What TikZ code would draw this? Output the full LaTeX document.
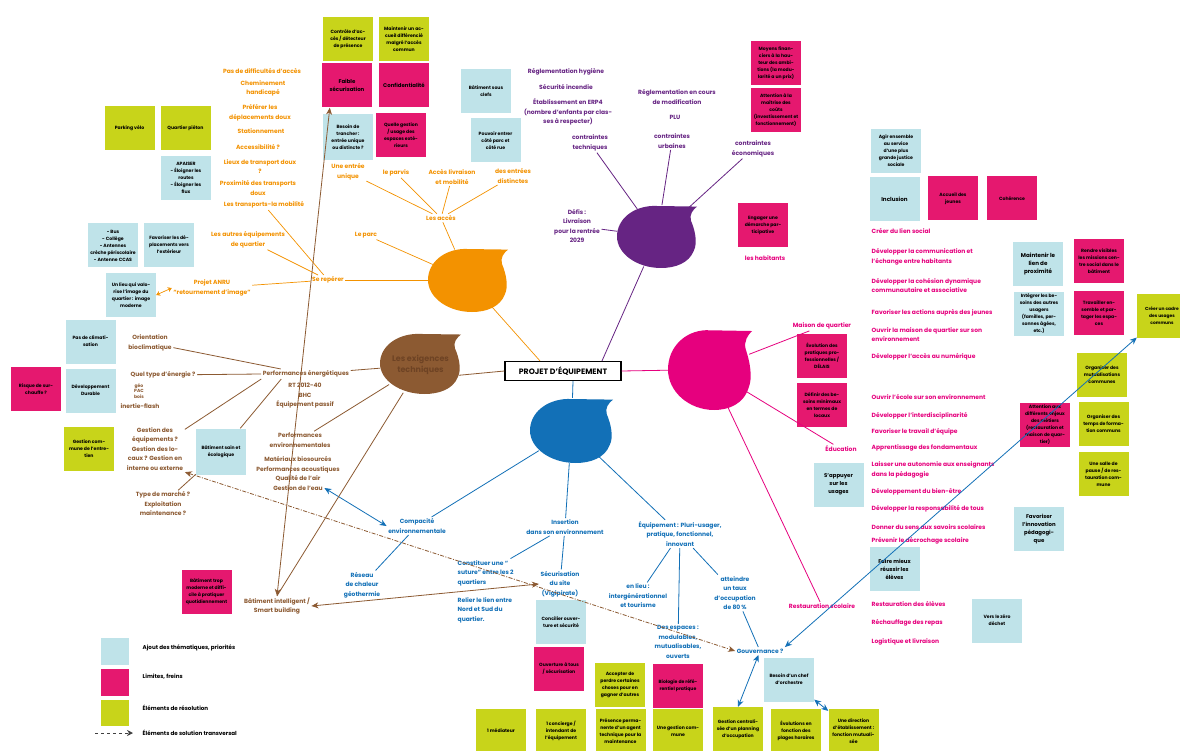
\documentclass[tikz,border=0pt]{standalone}
\usepackage{fontspec}
\setmainfont{Poppins}
\usetikzlibrary{arrows.meta,shapes.geometric}
\definecolor{cO}{HTML}{F39200}
\definecolor{cBr}{HTML}{8C5A32}
\definecolor{cBrD}{HTML}{6E4324}
\definecolor{cP}{HTML}{662483}
\definecolor{cM}{HTML}{E6007E}
\definecolor{cPk}{HTML}{E5186F}
\definecolor{cB}{HTML}{1270B7}
\definecolor{cLB}{HTML}{BFE3E9}
\definecolor{cLm}{HTML}{C8D41A}
\newcommand\myblob[5]{\begin{scope}[shift={(#2,#3)},xscale=#4,yscale=#5]
\fill[#1] (1,-0.95) .. controls (0.9,-0.85) and (0.8,-0.7) .. (0.85,-0.5) .. controls (0.95,-0.2) and (1.02,0.2) .. (0.92,0.45) .. controls (0.8,0.85) and (0.45,1) .. (0.1,1) .. controls (-0.5,1) and (-1,0.55) .. (-1,0) .. controls (-1,-0.55) and (-0.6,-0.95) .. (-0.1,-0.97) -- cycle;
\end{scope}}
\tikzset{
 lbl/.style={font=\fontsize{6}{9.5}\selectfont\bfseries, align=center, inner sep=1.5pt},
 tO/.style={lbl,text=cO}, tBr/.style={lbl,text=cBr}, tP/.style={lbl,text=cP},
 tM/.style={lbl,text=cM}, tMl/.style={lbl,text=cM,anchor=west,align=left},
 tB/.style={lbl,text=cB}, tK/.style={lbl,text=black,font=\fontsize{5.6}{7}\selectfont\bfseries},
 bx/.style={minimum width=50pt, minimum height=44pt, inner sep=1pt, align=center, font=\fontsize{4.6}{7}\selectfont\bfseries, text=black},
 bxb/.style={bx, fill=cLB}, bxp/.style={bx, fill=cPk}, bxl/.style={bx, fill=cLm},
 lnO/.style={draw=cO, line width=0.7pt}, lnBr/.style={draw=cBr, line width=0.8pt},
 lnP/.style={draw=cP, line width=0.8pt}, lnM/.style={draw=cM, line width=0.8pt},
 lnB/.style={draw=cB, line width=0.8pt},
 darr/.style={{Stealth[length=7pt,width=6pt]}-{Stealth[length=7pt,width=6pt]}},
 sarr/.style={{Stealth[length=4pt,width=5pt]}-{Stealth[length=4pt,width=5pt]}},
 blobnode/.style={ellipse, inner sep=0pt}
}
\begin{document}
\begin{tikzpicture}[x=1pt,y=-1pt]
\fill[white] (0,0) rectangle (1180,751);
\useasboundingbox (0,0) rectangle (1180,751);

% blobs
\myblob{cO}{468}{280}{40}{32}
\myblob{cBr}{420.5}{363.5}{40.5}{30.5}
\myblob{cP}{657}{236.5}{40}{31.5}
\myblob{cM}{710}{369.5}{42}{40.5}
\myblob{cB}{571.5}{430.5}{41.5}{32.5}
\node[blobnode, minimum width=80pt, minimum height=64pt] (orb) at (468,280) {};
\node[blobnode, minimum width=81pt, minimum height=61pt, text=cBrD, font=\fontsize{8}{11}\selectfont\bfseries, align=center] (brb) at (420.5,365) {Les exigences\\techniques};
\node[blobnode, minimum width=80pt, minimum height=63pt] (pb) at (657,236.5) {};
\node[blobnode, minimum width=84pt, minimum height=81pt] (mb) at (710,369.5) {};
\node[blobnode, minimum width=83pt, minimum height=65pt] (bb) at (571.5,430.5) {};

% central
\node[draw=black, line width=1.2pt, fill=white, minimum width=116pt, minimum height=19pt, inner sep=1pt, font=\fontsize{7.8}{9}\selectfont\bfseries] (proj) at (563,371) {PROJET D'ÉQUIPEMENT};

% orange
\node[tO] (acces) at (441,218) {Les accès};
\node[tO] (entree) at (348,172) {Une entrée\\unique};
\node[tO] (parvis) at (396,173) {le parvis};
\node[tO] (livr) at (452,177) {Accès livraison\\et mobilité};
\node[tO] (distinct) at (513,176) {des entrées\\distinctes};
\node[tO] (parc) at (366,235) {Le parc};
\node[tO] (reperer) at (328,280) {Se repérer};
\node[tO] (transp) at (264,205) {Les transports-la mobilité};
\node[tO] (autres) at (248,240) {Les autres équipements\\de quartier};
\node[tO] (anru) at (212,288) {Projet ANRU\\“retournement d'image”};
\node[tO] (o1) at (262,71) {Pas de difficultés d'accès};
\node[tO] (o2) at (263,88.5) {Cheminement\\handicapé};
\node[tO] (o3) at (260,113) {Préférer les\\déplacements doux};
\node[tO] (o4) at (261,131) {Stationnement};
\node[tO] (o5) at (258,147) {Accessibilité ?};
\node[tO] (o6) at (260,166.5) {Lieux de transport doux\\?};
\node[tO] (o7) at (258,188) {Proximité des transports\\doux};

% boxes top-left
\node[bxl] (ctrl) at (348,39) {Contrôle d'ac-\\cès / détecteur\\de présence};
\node[bxl] (accdiff) at (404,39) {Maintenir un ac-\\cueil différencié\\malgré l'accès\\commun};
\node[bxp, font=\fontsize{5.4}{8}\selectfont\bfseries] (faible) at (347,85.5) {Faible\\sécurisation};
\node[bxp, font=\fontsize{5.4}{8}\selectfont\bfseries] (confid) at (404,85.5) {Confidentialité};
\node[bxb, minimum height=46pt] (besoin) at (348,137) {Besoin de\\trancher :\\entrée unique\\ou distincte ?};
\node[bxp] (quelle) at (401,135) {Quelle gestion\\/ usage des\\espaces exté-\\rieurs};
\node[bxl] (parkvelo) at (129.5,128) {Parking vélo};
\node[bxl] (pieton) at (185.5,128) {Quartier piéton};
\node[bxb] (apaiser) at (186,178) {APAISER\\- Éloigner les\\routes\\- Éloigner les\\flux};
\node[bxb] (bus) at (113,245.5) {- Bus\\- Collège\\- Antennes\\crèche périscolaire\\- Antenne CCAS};
\node[bxb] (favdepl) at (169,245) {Favoriser les dé-\\placements vers\\l'extérieur};
\node[bxb] (lieu) at (131,295) {Un lieu qui valo-\\rise l'image du\\quartier : image\\moderne};

% purple
\node[tP] (regl) at (566,72) {Réglementation hygiène};
\node[tP] (incendie) at (566,87) {Sécurité incendie};
\node[tP] (erp) at (568,112) {Établissement en ERP4\\(nombre d'enfants par clas-\\ses à respecter)};
\node[tP] (ctech) at (590,143) {contraintes\\techniques};
\node[tP] (reglmod) at (677,97) {Réglementation en cours\\de modification};
\node[tP] (plu) at (675,117) {PLU};
\node[tP] (curb) at (672,141) {contraintes\\urbaines};
\node[tP] (ceco) at (753,149) {contraintes\\économiques};
\node[tP] (defis) at (577,226) {Défis :\\Livraison\\pour la rentrée\\2029};
\node[bxb] (clefs) at (486,91.5) {Bâtiment sous\\clefs};
\node[bxb] (pouvoir) at (495.5,140.5) {Pouvoir entrer\\côté parc et\\côté rue};
\node[bxp] (moyens) at (776,63.5) {Moyens finan-\\ciers à la hau-\\teur des ambi-\\tions (la modu-\\larité a un prix)};
\node[bxp] (maitrise) at (776,110.5) {Attention à la\\maîtrise des\\coûts\\(investissement et\\fonctionnement)};
\node[bxp] (engager) at (763,225) {Engager une\\démarche par-\\ticipative};

% magenta
\node[tM] (habitants) at (765,258) {les habitants};
\node[tM] (maison) at (822,326) {Maison de quartier};
\node[tMl] (lien) at (870,231) {Créer du lien social};
\node[tMl] (comm) at (870,257) {Développer la communication et\\l'échange entre habitants};
\node[tMl] (cohes) at (870,285.5) {Développer la cohésion dynamique\\communautaire et associative};
\node[tMl] (jeunes) at (870,313) {Favoriser les actions auprès des jeunes};
\node[tMl] (ouvmq) at (870,334.5) {Ouvrir la maison de quartier sur son\\environnement};
\node[tMl] (numer) at (870,357) {Développer l'accès au numérique};
\node[tM] (educ) at (841,449) {Éducation};
\node[tMl] (ecole) at (870,397) {Ouvrir l'école sur son environnement};
\node[tMl] (interd) at (870,416) {Développer l'interdisciplinarité};
\node[tMl] (equipe) at (870,432) {Favoriser le travail d'équipe};
\node[tMl] (fond) at (870,448) {Apprentissage des fondamentaux};
\node[tMl] (autonom) at (870,470) {Laisser une autonomie aux enseignants\\dans la pédagogie};
\node[tMl] (bienetre) at (870,492) {Développement du bien-être};
\node[tMl] (respons) at (870,509) {Développer la responsabilité de tous};
\node[tMl] (sens) at (870,527) {Donner du sens aux savoirs scolaires};
\node[tMl] (decroch) at (870,541) {Prévenir le décrochage scolaire};
\node[tM] (resto) at (822,606) {Restauration scolaire};
\node[tMl] (eleves) at (870,604) {Restauration des élèves};
\node[tMl] (rechauf) at (870,623) {Réchauffage des repas};
\node[tMl] (logist) at (870,642) {Logistique et livraison};
\node[bxb] (agir) at (896,151) {Agir ensemble\\au service\\d'une plus\\grande justice\\sociale};
\node[bxb, font=\fontsize{5.6}{8}\selectfont\bfseries] (inclusion) at (894.5,199.5) {Inclusion};
\node[bxp] (accjeunes) at (953,198.5) {Accueil des\\jeunes};
\node[bxp] (coherence) at (1012,198.5) {Cohérence};
\node[bxb, font=\fontsize{5.6}{8}\selectfont\bfseries] (maintenir) at (1038,264) {Maintenir le\\lien de\\proximité};
\node[bxp] (rendre) at (1099,261) {Rendre visibles\\les missions cen-\\tre social dans le\\bâtiment};
\node[bxb] (integrer) at (1039,314) {Intégrer les be-\\soins des autres\\usagers\\(familles, per-\\sonnes âgées,\\etc.)};
\node[bxp] (travailler) at (1099,313) {Travailler en-\\semble et par-\\tager les espa-\\ces};
\node[bxl, font=\fontsize{4.4}{7}\selectfont\bfseries] (cadre) at (1162,315.5) {Créer un cadre\\des usages\\communs};
\node[bxp] (evolution) at (822,355.5) {Évolution des\\pratiques pro-\\fessionnelles /\\DÉLAIS};
\node[bxp] (definir) at (822,405) {Définir des be-\\soins minimaux\\en termes de\\locaux};
\node[bxl] (orgmut) at (1102,374.5) {Organiser des\\mutualisations\\communes};
\node[bxp] (enjeux) at (1045,424.5) {Attention aux\\différents enjeux\\des métiers\\(restauration et\\maison de quar-\\tier)};
\node[bxl] (orgtemps) at (1103.5,424) {Organiser des\\temps de forma-\\tion communs};
\node[bxl] (salle) at (1103.5,474) {Une salle de\\pause / de res-\\tauration com-\\mune};
\node[bxb, font=\fontsize{5.4}{8}\selectfont\bfseries] (appuyer) at (838.5,484.5) {S'appuyer\\sur les\\usages};
\node[bxb, font=\fontsize{5.4}{8}\selectfont\bfseries] (innov) at (1039,529) {Favoriser\\l'innovation\\pédagogi-\\que};
\node[bxb, font=\fontsize{5.4}{8}\selectfont\bfseries] (reussir) at (894.5,569) {Faire mieux\\réussir les\\élèves};
\node[bxb] (zero) at (997,620.5) {Vers le zéro\\déchet};

% blue
\node[tB] (compac) at (417,526) {Compacité\\environnementale};
\node[tB] (reseaux) at (362,585) {Réseau\\de chaleur\\géothermie};
\node[tB] (insert) at (565,527) {Insertion\\dans son environnement};
\node[tB, anchor=west, align=left] (suture) at (456,573) {Constituer une “\\suture” entre les 2\\quartiers};
\node[tB, anchor=west, align=left] (relier) at (456,610) {Relier le lien entre\\Nord et Sud du\\quartier.};
\node[tB] (secu) at (560,584) {Sécurisation\\du site\\(Vigipirate)};
\node[tB] (equip) at (680,534) {Équipement : Pluri-usager,\\pratique, fonctionnel,\\innovant};
\node[tB] (enlieu) at (638,596) {en lieu :\\intergénérationnel\\et tourisme};
\node[tB] (espaces) at (678,642) {Des espaces :\\modulables,\\mutualisables,\\ouverts};
\node[tB] (taux) at (735,593) {atteindre\\un taux\\d'occupation\\de 80\,\%};
\node[tB] (gouv) at (760,651) {Gouvernance ?};
\node[bxb] (concilier) at (561,622) {Concilier ouver-\\ture et sécurité};
\node[bxp] (ouverture) at (559,668.5) {Ouverture à tous\\/ sécurisation};
\node[bxl] (accepter) at (620,685) {Accepter de\\perdre certaines\\choses pour en\\gagner d'autres};
\node[bxp] (biologie) at (678,685.5) {Biologie de réfé-\\rentiel pratique};
\node[bxl] (presence) at (620.5,731) {Présence perma-\\nente d'un agent\\technique pour la\\maintenance};
\node[bxl] (gestcommune) at (678,731) {Une gestion com-\\mune};
\node[bxl] (concierge) at (561,731) {1 concierge /\\intendant de\\l'équipement};
\node[bxl] (mediateur) at (501,731) {1 médiateur};
\node[bxl] (gestcentr) at (738,729) {Gestion centrali-\\sée d'un planning\\d'occupation};
\node[bxl] (evols) at (796,731) {Évolutions en\\fonction des\\plages horaires};
\node[bxl] (direction) at (853.5,731) {Une direction\\d'établissement :\\fonction mutuali-\\sée};
\node[bxb] (chef) at (789,679.5) {Besoin d'un chef\\d'orchestre};

% brown
\node[tBr] (perfen) at (306,374) {Performances énergétiques};
\node[tBr] (perfsub) at (305,396) {RT 2012-40\\BHC\\Équipement passif};
\node[tBr] (orient) at (150,343) {Orientation\\bioclimatique};
\node[tBr] (typeen) at (163,375) {Quel type d'énergie ?};
\node[tBr, font=\fontsize{4.5}{5.5}\selectfont\bfseries] (energ) at (139,391) {géo\\PAC\\bois};
\node[tBr] (flash) at (140,406) {inertie-flash};
\node[tBr] (gestequip) at (155,449) {Gestion des\\équipements ?\\Gestion des lo-\\caux ? Gestion en\\interne ou externe};
\node[tBr] (typemarche) at (163,504) {Type de marché ?\\Exploitation\\maintenance ?};
\node[tBr] (perfenv) at (300,440) {Performances\\environnementales};
\node[tBr] (mat) at (298,469) {Matériaux biosourcés\\Performances acoustiques\\Qualité de l'air};
\node[tBr] (eau) at (298,488) {Gestion de l'eau};
\node[tBr] (intel) at (277,606) {Bâtiment intelligent /\\Smart building};
\node[bxb] (clim) at (90.5,341.5) {Pas de climati-\\sation};
\node[bxb] (dd) at (90.5,390.5) {Développement\\Durable};
\node[bxp] (surchauffe) at (36,389) {Risque de sur-\\chauffe ?};
\node[bxl] (gestcom) at (89,449) {Gestion com-\\mune de l'entre-\\tien};
\node[bxb, minimum height=46pt] (sain) at (221,451.5) {Bâtiment sain et\\écologique};
\node[bxp] (trop) at (206.5,592) {Bâtiment trop\\moderne et diffi-\\cile à pratiquer\\quotidiennement};

% legend
\node[bxb, minimum width=28pt, minimum height=27pt] (legb) at (115,651.5) {};
\node[bxp, minimum width=28pt, minimum height=27pt] (legp) at (115,682.5) {};
\node[bxl, minimum width=28pt, minimum height=26pt] (legl) at (115,712.5) {};
\node[tK, anchor=west] (legbt) at (141,648) {Ajout des thématiques, priorités};
\node[tK, anchor=west] (legpt) at (141,677) {Limites, freins};
\node[tK, anchor=west] (leglt) at (141,708) {Éléments de résolution};
\node[tK, anchor=west] (legdt) at (141,733) {Éléments de solution transversal};
\coordinate (legas) at (95,733);
\coordinate (legae) at (133,733);
\draw[dashed, draw=black!75, line width=0.9pt, -{Stealth[length=6pt,width=6pt]}] (legas) -- (legae);

% connectors: centre
\draw[lnO] (orb) -- ([xshift=-23pt]proj.north);
\draw[lnP] (pb) -- ([xshift=39pt]proj.north);
\draw[lnM] (proj.east) -- (mb);
\draw[lnBr] (brb.-15) -- (proj.west);
\draw[lnB] ([xshift=10pt]proj.south) -- (bb);

% orange
\draw[lnO] (orb) -- (acces);
\draw[lnO] (acces) -- (entree);
\draw[lnO] (acces) -- (parvis);
\draw[lnO] (acces) -- (livr);
\draw[lnO] (acces) -- (distinct);
\draw[lnO] (orb) -- (parc);
\draw[lnO] (orb) -- (reperer);
\draw[lnO] (reperer) -- (transp);
\draw[lnO] (reperer) -- (autres);
\draw[lnO] (reperer) -- (anru);
\draw[lnO, sarr] (lieu.east) -- (anru.west);

% purple
\draw[lnP] (pb) -- (ctech);
\draw[lnP] (pb) -- (curb);
\draw[lnP] (pb) -- (ceco);
\draw[lnP] (pb) -- (defis);

% magenta
\draw[lnM] (mb) -- (maison);
\draw[lnM] (mb) -- (educ);
\draw[lnM] (mb) -- (resto);

% blue
\draw[lnB] (bb) -- (compac);
\draw[lnB] (bb) -- (insert);
\draw[lnB] (bb) -- (equip);
\draw[lnB] (compac) -- (reseaux);
\draw[lnB] (insert) -- (suture);
\draw[lnB] (insert) -- (secu);
\draw[lnB] (equip) -- (enlieu);
\draw[lnB] (equip) -- (espaces);
\draw[lnB] (equip) -- (taux);
\draw[lnB] (taux) -- (gouv);
\draw[lnB, darr] (gouv) -- (gestcentr.north);
\draw[lnB, darr] (chef) -- (direction);
\draw[lnB, darr] (cadre) -- (gouv.north east);
\draw[lnB, darr] (eau.east) -- (compac.west);

% brown
\draw[lnBr] (brb) -- (perfen);
\draw[lnBr] (perfen) -- (orient);
\draw[lnBr] (perfen.west) -- (typeen);
\draw[lnBr] (perfen.south west) -- (gestequip);
\draw[lnBr] ([xshift=20pt]perfen.south west) -- (sain);
\draw[lnBr] (sain) -- (typemarche);
\draw[lnBr] (brb) -- (perfenv);
\draw[lnBr] (brb) -- (intel.north);
\draw[lnBr, darr] ([xshift=8pt]faible.south west) -- (intel.north);
\draw[lnBr, darr] (intel.east) -- (secu.west);
\draw[lnBr, darr, dash pattern=on 4pt off 1.5pt on 1pt off 1.5pt] (gestequip.south east) -- (gouv.west);
\end{tikzpicture}
\end{document}
